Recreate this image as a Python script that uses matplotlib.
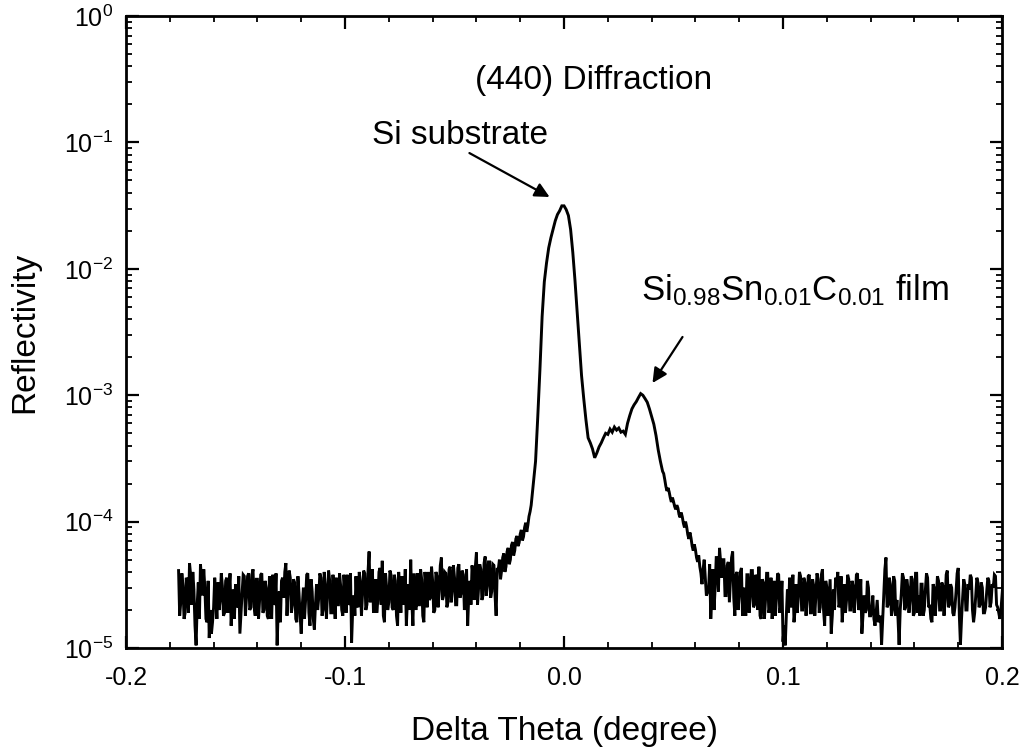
import numpy as np
import matplotlib
matplotlib.use('Agg')
import matplotlib.pyplot as plt
from matplotlib.ticker import FixedLocator, MultipleLocator, NullFormatter

plt.rcParams['font.family'] = ['Liberation Sans', 'DejaVu Sans']
plt.rcParams['mathtext.fontset'] = 'custom'
plt.rcParams['mathtext.rm'] = 'Liberation Sans'
plt.rcParams['mathtext.it'] = 'Liberation Sans:italic'
plt.rcParams['mathtext.bf'] = 'Liberation Sans:bold'
plt.rcParams['axes.unicode_minus'] = False

# ---- data: reflectivity in units of 1e-5 ----
step = 0.001          # spacing inside each list (degree)
unit = 1e-5

left_start = -0.176
left_bg = [4.1, 2.3, 3.1, 1.9, 3.4, 4.7, 2.2, 2.9, 1.05, 3.3,
           4.6, 2.6, 3.0, 1.6, 1.2, 1.3, 2.1, 2.6, 3.3, 2.4,
           3.1, 1.9, 3.6, 2.8, 1.5, 2.9, 3.2, 2.2, 1.3, 2.7,
           3.7, 2.5, 3.9, 2.1, 4.2, 1.8, 3.5, 2.4, 3.9, 2.0,
           3.0, 1.7, 2.6, 3.8, 2.3, 1.05, 2.8, 3.4, 2.5, 4.7,
           2.9, 3.6, 2.2, 3.3, 1.6, 2.7, 1.3, 3.0, 2.4, 3.9,
           1.5, 2.8, 1.4, 3.2, 2.5, 3.6, 2.0, 3.0, 2.6, 3.4,
           1.9, 2.7, 3.6, 2.2, 3.1, 1.8, 2.9, 3.8, 2.3, 1.1,
           2.6, 3.7, 2.1, 3.3, 2.7, 3.9, 2.2, 5.8, 3.0, 1.9,
           3.5, 2.4, 4.3, 4.9, 1.6, 3.0, 2.3, 3.8, 2.0, 3.4,
           1.5, 2.9, 3.7, 2.4, 1.5, 3.2, 5.0, 1.5, 2.8, 3.9,
           2.2, 3.5, 1.6, 3.1, 4.0, 2.5, 3.4, 2.0, 3.7, 2.8,
           5.2, 2.6, 3.9, 2.3, 4.4, 2.9, 3.6, 2.2, 4.6, 2.7,
           3.8, 2.5, 1.5, 3.4, 4.5, 2.4, 5.7, 3.0, 4.2, 2.6,
           5.3, 3.1, 4.8, 2.8, 4.5, 1.8]
left_mid_start = -0.1755
left_bg_mid = [1.8, 3.9, 1.7, 3.6, 1.9, 3.8, 4.0, 1.5, 2.2, 1.7,
               3.5, 4.2, 1.7, 3.4, 2.0, 1.6, 3.6, 1.7, 2.0, 3.9,
               1.8, 3.4, 1.9, 3.9, 2.2, 1.7, 2.1, 3.7, 1.9, 3.8,
               1.8, 3.7, 2.0, 3.8, 2.1, 3.5, 1.7, 3.8, 1.9, 3.4,
               1.8, 3.7, 1.7, 2.2, 3.9, 2.0, 1.6, 3.6, 4.0, 1.8,
               4.1, 1.9, 3.5, 1.7, 3.7, 1.8, 2.2, 1.7, 3.8, 1.9,
               3.5, 1.7, 2.2, 2.0, 3.9, 1.8, 4.0, 1.7, 4.1, 1.9,
               3.8, 1.7, 2.2, 3.9, 2.0, 3.8, 1.9, 2.2, 3.9, 2.0,
               1.8, 2.2, 4.0, 1.8, 4.1, 2.0, 4.0, 2.3, 4.2, 2.4,
               1.9, 4.0, 2.2, 1.8, 3.9, 2.0, 4.1, 2.1, 3.8, 1.8,
               4.0, 1.9, 2.2, 4.2, 2.4, 2.0, 2.3, 3.9, 2.0, 2.2,
               4.2, 1.8, 4.0, 2.1, 2.4, 4.4, 1.9, 4.0, 2.1, 4.5,
               2.4, 4.0, 2.1, 4.2, 2.3, 4.5, 2.2, 4.3, 2.5, 4.1,
               2.0, 4.2, 2.6, 2.2, 3.7, 4.4, 2.2, 4.6, 2.4, 4.7,
               2.6, 4.8, 2.5, 4.6, 2.6, 4.2]

peak_start = -0.030
peak_vals = [4.2, 3.5, 5.2, 4.0, 5.8, 4.6, 6.5, 5.4, 7.3, 6.4,
             8.0, 7.1, 9.0, 8.3, 11.0, 13.5, 20, 30, 67, 160,
             420, 790, 1110, 1465, 1760, 2060, 2400, 2690, 2880, 3150,
             3150, 2940, 2640, 2050, 1350, 810, 450, 250, 143, 94,
             64, 46, 42, 37.6, 32, 35, 39, 42, 46, 50,
             49, 54, 51, 56, 53, 55, 51, 52, 49, 60,
             69, 78, 84, 89, 96, 103, 100, 94, 88, 78,
             68, 59, 48, 37, 30, 25, 21.5, 17.5, 17.2, 14.3,
             14.4, 12.5, 12.8, 10.8, 10.9, 9.0, 9.1, 7.3, 7.4, 5.9,
             6.0, 4.8, 4.4, 3.2, 5.0, 2.6]
rise_mid_start = -0.0295
rise_mid = [5.0, 4.1, 5.6, 4.4, 6.2, 5.0, 6.9, 5.9, 7.7, 6.8,
            8.6, 7.6, 9.8, 9.4, 12.0]
fall_mid_start = 0.0455
fall_mid = [24, 19, 18.5, 15.5, 15.5, 13.2, 13.5, 11.4, 11.8, 9.7,
            10.0, 7.9, 8.2, 6.4, 6.6, 5.2, 5.4, 3.9, 4.2, 3.6]

right_start = 0.066
right_bg = [2.9, 1.7, 4.2, 3.0, 5.2, 6.2, 3.6, 5.0, 2.6, 4.8,
            3.4, 5.8, 1.8, 4.0, 2.6, 4.3, 3.0, 1.8, 3.8, 2.5,
            4.1, 2.2, 3.5, 4.4, 1.7, 3.3, 2.4, 3.9, 2.1, 1.7,
            3.4, 2.5, 3.8, 2.2, 1.12, 1.05, 2.9, 3.6, 2.4, 1.6,
            3.2, 2.6, 3.7, 2.0, 3.3, 2.4, 3.8, 1.9, 3.1, 2.6,
            3.5, 2.1, 4.2, 1.5, 3.0, 2.5, 1.3, 2.9, 3.6, 4.0,
            2.3, 1.6, 3.2, 2.4, 3.5, 2.0, 3.1, 2.5, 3.9, 2.2,
            1.3, 2.6, 2.0, 3.0, 1.8, 2.6, 1.5, 2.4, 1.7, 1.06,
            2.8, 5.2, 2.2, 3.2, 2.0, 3.4, 2.4, 1.06, 2.7, 3.6,
            2.1, 3.0, 2.4, 3.5, 1.9, 3.9, 2.6, 3.2, 1.8, 2.9,
            3.6, 2.2, 1.6, 3.0, 2.5, 3.4, 2.0, 3.1, 2.4, 4.1,
            2.2, 3.0, 1.8, 2.8, 4.3, 1.06, 2.5, 3.2, 2.0, 2.9,
            3.6, 1.6, 2.6, 3.3, 2.2, 3.0, 1.9, 2.8, 3.4, 2.3,
            3.0, 3.7, 2.1, 1.7, 2.6]
right_mid_start = 0.0665
right_bg_mid = [4.6, 2.6, 2.0, 5.2, 2.8, 4.8, 5.0, 2.6, 4.5, 2.3,
                5.2, 2.5, 3.8, 2.0, 4.0, 1.8, 2.2, 3.8, 1.9, 4.1,
                2.1, 3.8, 2.0, 1.8, 3.5, 1.7, 3.9, 1.9, 3.6, 2.2,
                1.8, 3.9, 1.9, 3.4, 1.5, 1.8, 1.9, 2.1, 3.8, 2.0,
                1.9, 4.0, 2.0, 3.6, 1.8, 3.7, 1.9, 3.5, 1.8, 3.9,
                1.9, 3.8, 2.0, 3.4, 1.8, 3.5, 1.8, 2.0, 3.2, 2.1,
                3.7, 2.2, 1.9, 3.8, 2.0, 3.4, 1.9, 3.8, 2.0, 3.5,
                1.8, 1.9, 3.4, 1.8, 2.0, 1.7, 1.9, 1.6, 1.8, 1.7,
                4.2, 2.1, 3.6, 1.8, 3.7, 1.8, 1.7, 2.0, 3.9, 2.0,
                3.5, 1.9, 3.7, 1.8, 3.9, 1.9, 1.8, 3.2, 2.0, 3.9,
                2.1, 1.7, 3.2, 1.8, 3.7, 2.0, 3.3, 1.8, 3.8, 2.1,
                3.2, 1.9, 2.1, 3.9, 1.8, 1.7, 3.5, 2.0, 3.2, 3.8,
                2.0, 1.9, 3.6, 2.1, 3.3, 1.9, 2.1, 3.6, 2.1, 3.2,
                3.8, 2.2, 1.9, 2.0, 3.4]

x_ticks = [-0.2, -0.1, 0.0, 0.1, 0.2]
x_ticklabels = ['-0.2', '-0.1', '0.0', '0.1', '0.2']
y_ticks = [1e-5, 1e-4, 1e-3, 1e-2, 1e-1, 1e0]
y_ticklabels = [r'$\mathregular{10^{-5}}$', r'$\mathregular{10^{-4}}$',
                r'$\mathregular{10^{-3}}$', r'$\mathregular{10^{-2}}$',
                r'$\mathregular{10^{-1}}$', r'$\mathregular{10^{0}}$']

# ---- assemble (interleave the sample lists by their x position) ----
segments = [(left_start, left_bg), (left_mid_start, left_bg_mid),
            (peak_start, peak_vals), (rise_mid_start, rise_mid),
            (fall_mid_start, fall_mid),
            (right_start, right_bg), (right_mid_start, right_bg_mid)]
xs, ys = [], []
for start, vals in segments:
    xs.append(start + step * np.arange(len(vals)))
    ys.append(np.asarray(vals, dtype=float) * unit)
x = np.concatenate(xs)
y = np.concatenate(ys)
order = np.argsort(x, kind='stable')
x, y = x[order], y[order]

fig = plt.figure(figsize=(10.27, 7.49), dpi=100)
ax = fig.add_axes([0.1227, 0.1348, 0.8530, 0.8438])
ax.plot(x, y, color='black', lw=2.1, solid_joinstyle='miter')
ax.set_yscale('log')
ax.set_xlim(-0.2, 0.2)
ax.set_ylim(1e-5, 1)

ax.xaxis.set_major_locator(FixedLocator(x_ticks))
ax.set_xticklabels(x_ticklabels)
ax.xaxis.set_minor_locator(MultipleLocator(0.02))
ax.yaxis.set_major_locator(FixedLocator(y_ticks))
ax.set_yticklabels(y_ticklabels)
minors = [m * 10.0 ** e for e in range(-5, 0) for m in range(2, 10)]
ax.yaxis.set_minor_locator(FixedLocator(minors))
ax.yaxis.set_minor_formatter(NullFormatter())

ax.tick_params(which='both', direction='in', top=True, right=True)
ax.tick_params(which='major', length=9, width=1.6, labelsize=18)
ax.tick_params(axis='x', which='major', pad=13)
ax.tick_params(axis='y', which='major', pad=9)
ax.tick_params(which='minor', length=4.5, width=1.3)
for s in ax.spines.values():
    s.set_linewidth(2)

ax.set_xlabel('Delta Theta (degree)', fontsize=24, labelpad=19)
ax.set_ylabel('Reflectivity', fontsize=24, labelpad=17)

ax.text(0.0135, 0.31, '(440) Diffraction', fontsize=24, ha='center', va='center')
ax.text(-0.0475, 0.113, 'Si substrate', fontsize=24, ha='center', va='center')
ax.text(0.0352, 5.6e-3, r'Si$_{\mathregular{0.98}}$Sn$_{\mathregular{0.01}}$C$_{\mathregular{0.01}}$ film',
        fontsize=25, ha='left', va='baseline')

arrow = dict(arrowstyle='-|>', lw=1.6, color='black', mutation_scale=22, shrinkA=0, shrinkB=0)
ax.annotate('', xy=(-0.0066, 0.037), xytext=(-0.0432, 0.0824), arrowprops=arrow)
ax.annotate('', xy=(0.0404, 1.25e-3), xytext=(0.0541, 2.89e-3), arrowprops=arrow)

fig.savefig('out.png', dpi=100)
